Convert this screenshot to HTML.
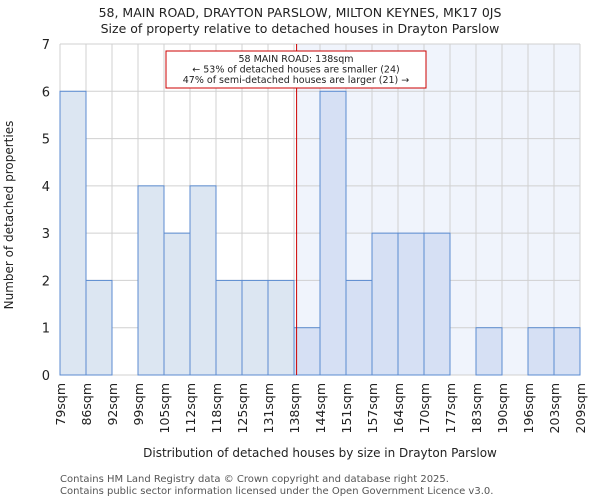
<!DOCTYPE html>
<html><head><meta charset="utf-8"><style>
body{margin:0;background:#fff;font-family:"DejaVu Sans","Liberation Sans",sans-serif}
</style></head><body>
<svg width="600" height="500" xmlns="http://www.w3.org/2000/svg" font-family="DejaVu Sans, Liberation Sans, sans-serif">
<text x="300" y="17" text-anchor="middle" font-size="12.5" fill="#222">58, MAIN ROAD, DRAYTON PARSLOW, MILTON KEYNES, MK17 0JS</text>
<text x="300" y="33" text-anchor="middle" font-size="12.5" fill="#222">Size of property relative to detached houses in Drayton Parslow</text>
<g id="plot"></g>
<text transform="translate(13,215) rotate(-90)" text-anchor="middle" font-size="12" fill="#222">Number of detached properties</text>
<text x="320" y="457" text-anchor="middle" font-size="12" fill="#222">Distribution of detached houses by size in Drayton Parslow</text>
<text x="60" y="482" font-size="10" fill="#555">Contains HM Land Registry data © Crown copyright and database right 2025.</text>
<text x="60" y="494" font-size="10" fill="#555">Contains public sector information licensed under the Open Government Licence v3.0.</text>
</svg>
<script>
const categories=["79sqm","86sqm","92sqm","99sqm","105sqm","112sqm","118sqm","125sqm","131sqm","138sqm","144sqm","151sqm","157sqm","164sqm","170sqm","177sqm","183sqm","190sqm","196sqm","203sqm","209sqm"];
const counts=[6,2,0,4,3,4,2,2,2,1,6,2,3,3,3,0,1,0,1,1];
const yTicks=[0,1,2,3,4,5,6,7];
const markerBin=9.1;
const ns="http://www.w3.org/2000/svg";
const g=document.getElementById("plot");
const L=60,R=580,T=44,B=375,yMax=7;
const bw=(R-L)/counts.length;
const x=i=>L+i*bw;
const y=v=>B-(v/yMax)*(B-T);
function mk(t,a){const e=document.createElementNS(ns,t);for(const k in a)e.setAttribute(k,a[k]);g.appendChild(e);return e;}
const mx=x(markerBin);
let e=mk("rect",{x:mx,y:T,width:R-mx,height:B-T,fill:"#f0f4fc"});


for(let i=0;i<=counts.length;i++){e=mk("line",{x1:x(i),x2:x(i),y1:T,y2:B,stroke:"#d0d0d0","stroke-width":1});

}
yTicks.forEach(v=>{e=mk("line",{x1:L,x2:R,y1:y(v),y2:y(v),stroke:"#d0d0d0","stroke-width":1});


const t=mk("text",{x:L-10,y:y(v)+5,"text-anchor":"end","font-size":13,fill:"#222"});t.textContent=v;

});
counts.forEach((c,i)=>{if(c<=0)return;
const r=mk("rect",{x:x(i),y:y(c),width:bw,height:y(0)-y(c),fill:i<markerBin-0.5?"#dce6f2":"#d6e0f4",stroke:"#5b8bd0","stroke-width":1});

});
categories.forEach((c,i)=>{const t=mk("text",{transform:`translate(${x(i)+5},${B+8}) rotate(-90)`,"text-anchor":"end","font-size":12.5,fill:"#222"});t.textContent=c;

});
e=mk("line",{x1:mx,x2:mx,y1:T,y2:B,stroke:"#cc0000","stroke-width":1});


e=mk("rect",{x:166,y:51,width:260,height:37,fill:"#fff",stroke:"#cc0000","stroke-width":1});


["58 MAIN ROAD: 138sqm","← 53% of detached houses are smaller (24)","47% of semi-detached houses are larger (21) →"].forEach((s,k)=>{const t=mk("text",{x:296,y:62+k*10.5,"text-anchor":"middle","font-size":9.5,fill:"#222"});t.textContent=s;

});
</script>
</body></html>
